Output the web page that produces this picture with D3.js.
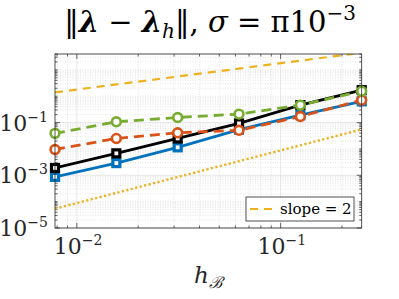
<!DOCTYPE html>
<html>
<head>
<meta charset="utf-8">
<script src="https://cdn.jsdelivr.net/npm/d3@7"></script>
<style>
  body { margin: 0; background: #fff; }
  svg { display: block; }
</style>
</head>
<body>
<svg id="chart"></svg>
<script>
// mesh sizes
const hValues = [1 / 128, 1 / 64, 1 / 32, 1 / 16, 1 / 8, 1 / 4];
// errors
const blueErr = [8.7e-4, 2.9e-3, 0.0115, 0.054, 0.19, 0.64];
const blackErr = [1.9e-3, 6.8e-3, 0.025, 0.093, 0.46, 1.7];
const orangeErr = [9.5e-3, 0.025, 0.041, 0.051, 0.17, 0.71];
const greenErr = [0.039, 0.107, 0.156, 0.21, 0.46, 1.55];
// reference lines
const refDashed = [1.4, 2.8, 5.6, 11.2, 22.4, 44.8];
const refDotted = [5.4e-5, 2.15e-4, 8.6e-4, 3.44e-3, 0.01375, 0.055];
const xTicks = [1e-2, 1e-1];
const yTicks = [1e-5, 1e-3, 1e-1];
const legendLabel = 'slope = 2';

const width = 399;
const height = 299;
const padL = 55, padR = 361.7, padT = 54, padB = 228;
const serif = "'DejaVu Serif', serif";

const svg = d3.select('#chart').attr('width', width).attr('height', height);

const xScale = d3.scaleLog().domain([1 / 128, 1 / 4]).range([padL, padR]);
const yScale = d3.scaleLog().domain([1e-5, 40]).range([padB, padT]);

// minor tick values
const xMinor = [];
for (let k = -3; k <= 0; k++) for (let m = 1; m < 10; m++) {
  const v = m * Math.pow(10, k);
  if (v >= 1 / 128 && v <= 1 / 4 && !xTicks.includes(v)) xMinor.push(v);
}
const yMinor = [];
for (let k = -5; k <= 1; k++) for (let m = 1; m < 10; m++) {
  const v = m * Math.pow(10, k);
  if (v >= 1e-5 && v <= 40 && !yTicks.includes(v)) yMinor.push(v);
}

// grid
const grid = svg.append('g');
grid.selectAll('.xminor').data(xMinor).enter().append('line')
  .attr('x1', d => xScale(d)).attr('x2', d => xScale(d))
  .attr('y1', padT).attr('y2', padB)
  .attr('stroke', '#d4d4d4').attr('stroke-width', 0.6).attr('stroke-dasharray', '1,1.5');
grid.selectAll('.yminor').data(yMinor).enter().append('line')
  .attr('x1', padL).attr('x2', padR)
  .attr('y1', d => yScale(d)).attr('y2', d => yScale(d))
  .attr('stroke', '#d4d4d4').attr('stroke-width', 0.6).attr('stroke-dasharray', '1,1.5');
grid.selectAll('.xmajor').data(xTicks).enter().append('line')
  .attr('x1', d => xScale(d)).attr('x2', d => xScale(d))
  .attr('y1', padT).attr('y2', padB)
  .attr('stroke', '#dcdcdc').attr('stroke-width', 0.7);
grid.selectAll('.ymajor').data(yTicks).enter().append('line')
  .attr('x1', padL).attr('x2', padR)
  .attr('y1', d => yScale(d)).attr('y2', d => yScale(d))
  .attr('stroke', '#dcdcdc').attr('stroke-width', 0.7);

// ticks inside the box, all four sides
const tickG = svg.append('g').attr('stroke', '#262626').attr('stroke-width', 0.7);
const xAll = xMinor.map(v => ({ v, len: 2.5 })).concat(xTicks.map(v => ({ v, len: 5 })));
const yAll = yMinor.map(v => ({ v, len: 2.5 })).concat(yTicks.map(v => ({ v, len: 5 })));
xAll.forEach(t => {
  const x = xScale(t.v);
  tickG.append('line').attr('x1', x).attr('x2', x).attr('y1', padB).attr('y2', padB - t.len);
  tickG.append('line').attr('x1', x).attr('x2', x).attr('y1', padT).attr('y2', padT + t.len);
});
yAll.forEach(t => {
  const y = yScale(t.v);
  tickG.append('line').attr('x1', padL).attr('x2', padL + t.len).attr('y1', y).attr('y2', y);
  tickG.append('line').attr('x1', padR).attr('x2', padR - t.len).attr('y1', y).attr('y2', y);
});

svg.append('defs').append('clipPath').attr('id', 'clip')
  .append('rect').attr('x', padL).attr('y', padT).attr('width', padR - padL).attr('height', padB - padT);

const line = d3.line().x(d => xScale(d[0])).y(d => yScale(d[1]));
const plot = svg.append('g').attr('clip-path', 'url(#clip)');

function drawLine(vals, color, dash, w) {
  plot.append('path')
    .datum(hValues.map((h, i) => [h, vals[i]]))
    .attr('d', line)
    .attr('fill', 'none')
    .attr('stroke', color)
    .attr('stroke-width', w)
    .attr('stroke-dasharray', dash);
}

drawLine(refDashed, '#EDB120', '8,6', 2.2);
drawLine(refDotted, '#EDB120', '2.2,2.4', 2.4);

const series = [
  { vals: blueErr, color: '#0072BD', dash: null, marker: 'square' },
  { vals: blackErr, color: '#000000', dash: null, marker: 'square' },
  { vals: orangeErr, color: '#D95319', dash: '10,6', marker: 'circle' },
  { vals: greenErr, color: '#77AC30', dash: '10,6', marker: 'circle' }
];

const markG = svg.append('g');
series.forEach(s => {
  drawLine(s.vals, s.color, s.dash, 2.8);
  const pts = hValues.map((h, i) => [h, s.vals[i]]);
  if (s.marker === 'square') {
    markG.selectAll(null).data(pts).enter().append('rect')
      .attr('x', d => xScale(d[0]) - 3.5).attr('y', d => yScale(d[1]) - 3.5)
      .attr('width', 7).attr('height', 7)
      .attr('fill', '#fff').attr('stroke', s.color).attr('stroke-width', 3.2);
  } else {
    markG.selectAll(null).data(pts).enter().append('circle')
      .attr('cx', d => xScale(d[0])).attr('cy', d => yScale(d[1]))
      .attr('r', 4.4)
      .attr('fill', '#fff').attr('stroke', s.color).attr('stroke-width', 2.6);
  }
});

// box
svg.append('rect').attr('x', padL).attr('y', padT)
  .attr('width', padR - padL).attr('height', padB - padT)
  .attr('fill', 'none').attr('stroke', '#262626').attr('stroke-width', 0.8);

// tick labels with exponents
function powLabel(sel, v) {
  const e = Math.round(Math.log10(v));
  sel.append('tspan').text('10');
  sel.append('tspan').attr('dy', -9).attr('font-size', 14).text('\u2212' + Math.abs(e));
}
xTicks.forEach(v => {
  const t = svg.append('text').attr('x', xScale(v) - 23).attr('y', 254)
    .attr('font-family', serif).attr('font-size', 22).attr('fill', '#262626');
  powLabel(t, v);
});
yTicks.forEach(v => {
  const t = svg.append('text').attr('x', 48).attr('y', yScale(v) + 8)
    .attr('font-family', serif).attr('font-size', 22).attr('fill', '#262626').attr('text-anchor', 'end');
  powLabel(t, v);
});

// x label
const xl = svg.append('text').attr('x', 194).attr('y', 283)
  .attr('font-family', serif).attr('font-size', 23).attr('fill', '#262626');
xl.append('tspan').attr('font-style', 'italic').text('h');
xl.append('tspan').attr('dy', 5).attr('font-size', 16).attr('font-style', 'italic').text('\u212C');

// title
const title = svg.append('text').attr('x', 210).attr('y', 32).attr('text-anchor', 'middle')
  .attr('font-family', serif).attr('font-size', 29).attr('fill', '#000');
title.append('tspan').text('\u2016');
title.append('tspan').attr('font-weight', 'bold').attr('font-style', 'italic').text('\u03BB');
title.append('tspan').text(' \u2212 ');
title.append('tspan').attr('font-weight', 'bold').attr('font-style', 'italic').text('\u03BB');
title.append('tspan').attr('dy', 6).attr('font-size', 20).attr('font-style', 'italic').text('h');
title.append('tspan').attr('dy', -6).text('\u2016, ');
title.append('tspan').attr('font-style', 'italic').text('\u03C3');
title.append('tspan').text(' = \u03C010');
title.append('tspan').attr('dy', -12).attr('font-size', 20).text('\u22123');

// legend
const lg = svg.append('g');
lg.append('rect').attr('x', 246).attr('y', 197).attr('width', 108).attr('height', 24)
  .attr('fill', '#fff').attr('stroke', '#262626').attr('stroke-width', 0.8);
lg.append('line').attr('x1', 250).attr('x2', 276).attr('y1', 209).attr('y2', 209)
  .attr('stroke', '#EDB120').attr('stroke-width', 2.2).attr('stroke-dasharray', '8,6');
lg.append('text').attr('x', 280).attr('y', 214).attr('font-family', serif)
  .attr('font-size', 15).attr('fill', '#000').text(legendLabel);
</script>
</body>
</html>
